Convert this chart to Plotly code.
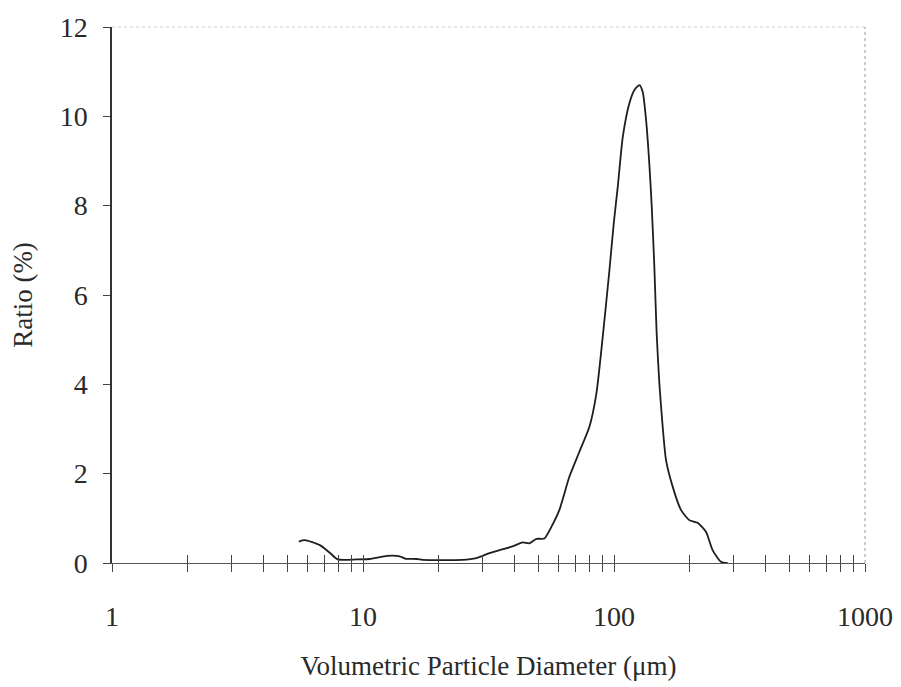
import plotly.graph_objects as go

# Particle size distribution
diameter_um = [5.55, 5.86, 6.73, 7.37, 7.93, 9.44, 10.6, 12.5, 14.0, 14.7, 16.4, 17.3,
               24.9, 28.3, 31.9, 35.0, 39.4, 43.2, 46.0, 49.1, 52.8, 56.3, 60.6,
               66.4, 72.8, 79.8, 85.1, 90.2, 95.9, 99.8, 103.5, 108.4, 115.1, 120.6,
               126.3, 130.1, 134.2, 138.4, 141.3, 144.8, 147.9, 151.6, 156.3, 161.1,
               171.3, 184.8, 199.5, 215.3, 232.5, 247.0, 266.7, 283.4]
ratio_pct = [0.48, 0.51, 0.40, 0.23, 0.08, 0.08, 0.09, 0.16, 0.15, 0.10, 0.09, 0.07,
             0.07, 0.11, 0.22, 0.29, 0.37, 0.46, 0.44, 0.54, 0.55, 0.81, 1.19,
             1.93, 2.49, 3.05, 3.80, 5.07, 6.56, 7.61, 8.42, 9.54, 10.29, 10.59,
             10.70, 10.55, 9.92, 8.90, 8.00, 6.63, 5.14, 4.02, 3.05, 2.31,
             1.71, 1.19, 0.96, 0.90, 0.70, 0.29, 0.03, 0.0]

x_tickvals = [m * 10 ** e for e in range(3) for m in range(1, 10)] + [1000]
x_ticktext = [str(v) if v in (1, 10, 100, 1000) else "" for v in x_tickvals]
y_tickvals = [0, 2, 4, 6, 8, 10, 12]

FONT = "Liberation Serif, Times New Roman, serif"
TXT = "#2a2a2a"

fig = go.Figure()
fig.add_trace(go.Scatter(
    x=diameter_um, y=ratio_pct, mode="lines",
    line=dict(color="#1e1e1e", width=1.8, shape="spline", smoothing=0.6),
    showlegend=False, hoverinfo="skip",
))
# invisible companion trace so the overlaid tick axis (inside ticks) is drawn
fig.add_trace(go.Scatter(
    x=diameter_um, y=ratio_pct, mode="lines", xaxis="x2",
    line=dict(color="rgba(0,0,0,0)", width=0),
    showlegend=False, hoverinfo="skip",
))

fig.update_layout(
    width=901, height=687,
    margin=dict(l=104, r=44, t=19, b=132),
    paper_bgcolor="white", plot_bgcolor="white",
    font=dict(family=FONT, size=27, color=TXT),
    xaxis=dict(
        type="log", range=[0, 3], automargin=False,
        tickmode="array", tickvals=x_tickvals, ticktext=x_ticktext,
        ticks="outside", ticklen=8, tickwidth=1, tickcolor="#444",
        showline=True, linecolor="#555", linewidth=1.2,
        showgrid=False, zeroline=False,
        tickfont=dict(family=FONT, size=28, color=TXT),
        ticklabelstandoff=20,
        title=dict(text="Volumetric Particle Diameter (μm)",
                   font=dict(family=FONT, size=27, color=TXT), standoff=25),
    ),
    xaxis2=dict(
        type="log", range=[0, 3], overlaying="x", anchor="y", side="bottom",
        automargin=False,
        tickmode="array", tickvals=x_tickvals, ticktext=[""] * len(x_tickvals),
        ticks="inside", ticklen=8, tickwidth=1, tickcolor="#444",
        showline=False, showgrid=False, zeroline=False, showticklabels=False,
    ),
    yaxis=dict(
        range=[0, 12], tickmode="array", tickvals=y_tickvals, automargin=False,
        ticks="outside", ticklen=7, tickwidth=1, tickcolor="#444",
        showline=True, linecolor="#333", linewidth=1.5,
        showgrid=False, zeroline=False,
        tickfont=dict(family=FONT, size=28, color=TXT),
        ticklabelstandoff=10,
        title=dict(text="Ratio (%)", font=dict(family=FONT, size=27, color=TXT), standoff=22),
    ),
    shapes=[
        dict(type="line", xref="paper", yref="paper", x0=0, x1=1, y0=1, y1=1,
             line=dict(color="#cfcfcf", width=1, dash="dot"), layer="below"),
        dict(type="line", xref="paper", yref="paper", x0=1, x1=1, y0=0, y1=1,
             line=dict(color="#9a9a9a", width=1, dash="dot"), layer="below"),
    ],
)

fig.write_html("out.html")
